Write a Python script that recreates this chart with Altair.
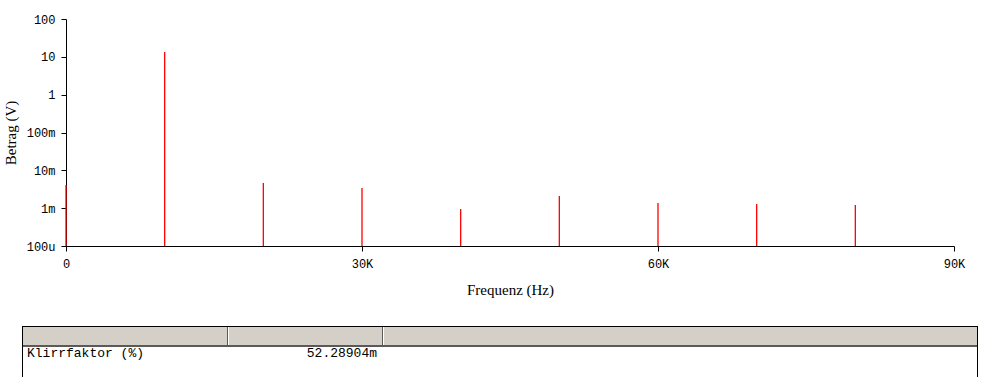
import altair as alt
import pandas as pd

# Spectrum data (harmonics)
freqs = [0, 10000, 20000, 30000, 40000, 50000, 60000, 70000, 80000]
mags = [4.1e-3, 13.5, 4.6e-3, 3.4e-3, 0.95e-3, 2.1e-3, 1.37e-3, 1.29e-3, 1.22e-3]

ytick_values = [1e-4, 1e-3, 1e-2, 1e-1, 1, 10, 100]
ytick_labels = ["100u", "1m", "10m", "100m", "1", "10", "100"]
xtick_values = [0, 30000, 60000, 90000]
xtick_labels = ["0", "30K", "60K", "90K"]

table_labels = ["Klirrfaktor (%)"]
table_values = ["52.28904m"]

W, H = 888, 227
BASE = 1e-4

df = pd.DataFrame({"f": freqs, "m": mags})

def label_expr(vals, labs):
    parts = []
    for v, l in zip(vals, labs):
        parts.append(f"abs(datum.value - {v}) < {abs(v) * 1e-6 + 1e-12} ? '{l}'")
    return " : ".join(parts) + " : ''"

mono = "Liberation Mono"
serif = "Liberation Serif"

spikes = alt.Chart(df).mark_rule(color="#ff0000", strokeWidth=1.3).encode(
    x=alt.X("f:Q",
            scale=alt.Scale(domain=[0, 90000], nice=False, zero=False),
            axis=alt.Axis(values=xtick_values,
                          labelExpr=label_expr(xtick_values, xtick_labels),
                          title="Frequenz (Hz)",
                          titleX=W / 2, titleY=43,
                          titleBaseline="middle", titleAlign="center",
                          tickSize=5, labelPadding=7,
                          labelFlush=False, labelOverlap=False)),
    y=alt.Y("m:Q",
            scale=alt.Scale(type="log", domain=[1e-4, 100], nice=False),
            axis=alt.Axis(values=ytick_values,
                          labelExpr=label_expr(ytick_values, ytick_labels),
                          title="Betrag (V)",
                          titleAngle=270, titleX=-56, titleY=H / 2,
                          titleBaseline="middle", titleAlign="center",
                          tickSize=5, labelPadding=6,
                          labelFlush=False, labelOverlap=False)),
    y2=alt.datum(BASE),
)

tdf = pd.DataFrame({"label": table_labels, "value": table_values})
one = pd.DataFrame({"k": [0]})

TL, TR = -44, 911
TT = 307

header = alt.Chart(one).mark_rect(fill="#d4d0c8").encode(
    x=alt.value(TL), x2=alt.value(TR), y=alt.value(TT + 1), y2=alt.value(TT + 19))
header_line = alt.Chart(one).mark_rule(color="#5a5a5a", strokeWidth=2).encode(
    x=alt.value(TL), x2=alt.value(TR), y=alt.value(TT + 20))
top_line = alt.Chart(one).mark_rule(color="#000000", strokeWidth=1).encode(
    x=alt.value(TL), x2=alt.value(TR + 0.5), y=alt.value(TT + 0.5))
left_line = alt.Chart(one).mark_rule(color="#000000", strokeWidth=1).encode(
    x=alt.value(TL + 0.5), y=alt.value(TT), y2=alt.value(400))
right_line = alt.Chart(one).mark_rule(color="#000000", strokeWidth=1).encode(
    x=alt.value(TR + 0.5), y=alt.value(TT), y2=alt.value(400))
sep_dark = alt.Chart(pd.DataFrame({"x": [161.5, 316.5]})).mark_rule(color="#5a5a5a", strokeWidth=1).encode(
    x=alt.X("x:Q", scale=None), y=alt.value(TT + 1), y2=alt.value(TT + 20))
sep_light = alt.Chart(pd.DataFrame({"x": [162.5, 317.5]})).mark_rule(color="#ffffff", strokeWidth=1).encode(
    x=alt.X("x:Q", scale=None), y=alt.value(TT + 1), y2=alt.value(TT + 19))

t_label = alt.Chart(tdf).mark_text(font=mono, fontSize=13, align="left", baseline="middle", color="black").encode(
    text="label:N", x=alt.value(-39), y=alt.value(334))
t_value = alt.Chart(tdf).mark_text(font=mono, fontSize=13, align="right", baseline="middle", color="black").encode(
    text="value:N", x=alt.value(311), y=alt.value(334))

chart = alt.layer(
    header, header_line, sep_dark, sep_light, top_line, left_line, right_line,
    t_label, t_value, spikes
).properties(
    width=W, height=H,
    autosize=alt.AutoSizeParams(type="none"),
    padding={"left": 66, "top": 19, "right": 40, "bottom": 131},
    background="white",
).configure_view(stroke=None).configure_axis(
    grid=False,
    domainColor="black", tickColor="black", domainWidth=1, tickWidth=1,
    labelFont=mono, labelFontSize=12, labelColor="black",
    titleFont=serif, titleFontSize=15, titleFontWeight="normal", titleColor="black",
)

chart.save("out.html", embed_options={"renderer": "svg", "actions": False})
